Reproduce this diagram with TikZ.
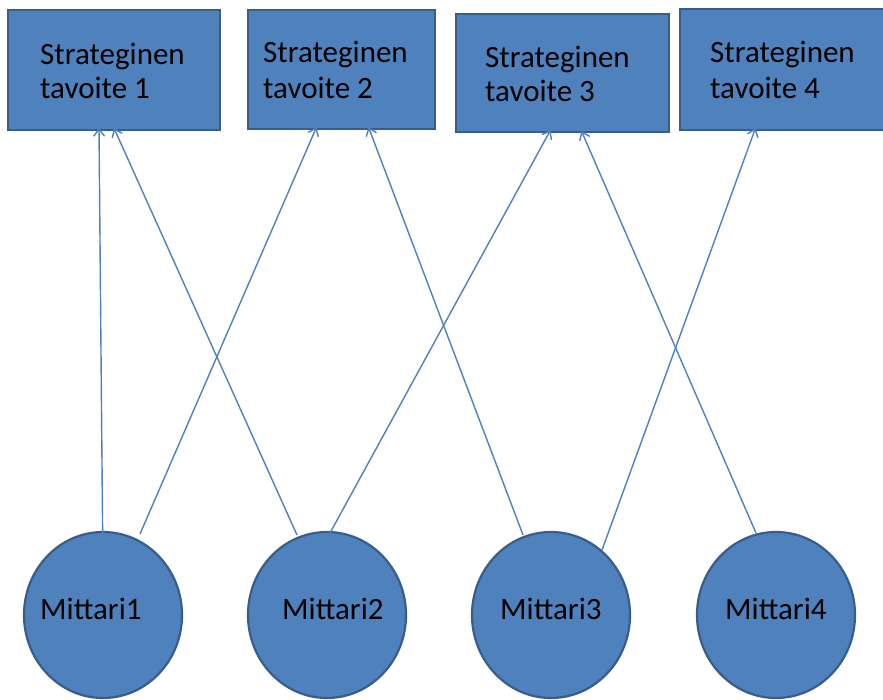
\documentclass[tikz,border=0pt]{standalone}
\usepackage{fontspec}
\setmainfont{Carlito}
\usetikzlibrary{shapes.geometric,arrows.meta,calc}
\definecolor{boxfill}{HTML}{4F81BD}
\definecolor{boxedge}{HTML}{385D8A}
\definecolor{linkblue}{HTML}{4F81BD}
\begin{document}
\begin{tikzpicture}[x=1pt,y=-1pt,
  goalbox/.style={rectangle,draw=boxedge,fill=boxfill,line width=2.2pt,inner sep=0pt},
  meterball/.style={ellipse,draw=boxedge,fill=boxfill,line width=2.2pt,inner sep=0pt,
    minimum width=158pt,minimum height=166pt},
  txt/.style={anchor=base west,inner sep=0pt,text=black,font=\fontsize{31}{34}\selectfont},
  link/.style={draw=linkblue,line width=1.4pt,-{Straight Barb[length=7pt,width=11pt,line width=1.4pt]}}]
\useasboundingbox (0,0) rectangle (883,700);
\clip (0,0) rectangle (883,700);
\fill[white] (0,0) rectangle (883,700);

% strategic goal boxes
\node[goalbox,minimum width=212pt,minimum height=120pt] (g1) at (114,70) {};
\node[goalbox,minimum width=187pt,minimum height=119pt] (g2) at (341.5,69.5) {};
\node[goalbox,minimum width=213pt,minimum height=118pt] (g3) at (562.5,73) {};
\node[goalbox,minimum width=215pt,minimum height=121pt] (g4) at (787.5,69.5) {};

\node[txt] (g1a) at (40,65) {Strateginen};
\node[txt] (g1b) at (40,99) {tavoite 1};
\node[txt] (g2a) at (263,63) {Strateginen};
\node[txt] (g2b) at (263,99) {tavoite 2};
\node[txt] (g3a) at (485,68) {Strateginen};
\node[txt] (g3b) at (485,102) {tavoite 3};
\node[txt] (g4a) at (710,63) {Strateginen};
\node[txt] (g4b) at (710,99) {tavoite 4};

% meters
\node[meterball] (m1) at (103,615) {};
\node[meterball] (m2) at (327,615) {};
\node[meterball] (m3) at (551,615) {};
\node[meterball] (m4) at (776,615) {};

\node[txt] (m1t) at (40,619) {Mittari1};
\node[txt] (m2t) at (282,619) {Mittari2};
\node[txt] (m3t) at (500,619) {Mittari3};
\node[txt] (m4t) at (725,619) {Mittari4};

% links from meters to goals
\draw[link] ($(m1)+(0,-40)$) -- ([xshift=-15pt,yshift=3pt]g1.south);
\draw[link] ($(m1)+(37,-81)$) -- ([xshift=-25pt,yshift=3pt]g2.south);
\draw[link] ($(m2)+(-30,-80)$) -- ([xshift=0pt,yshift=3pt]g1.south);
\draw[link] ($(m2)+(3,-82)$) -- ([xshift=-12pt,yshift=3pt]g3.south);
\draw[link] ($(m3)+(-28,-80)$) -- ([xshift=27pt,yshift=3pt]g2.south);
\draw[link] ($(m3)+(51,-65)$) -- ([xshift=-32pt,yshift=3pt]g4.south);
\draw[link] ($(m4)+(-20,-82)$) -- ([xshift=19pt,yshift=2pt]g3.south);
\end{tikzpicture}
\end{document}
